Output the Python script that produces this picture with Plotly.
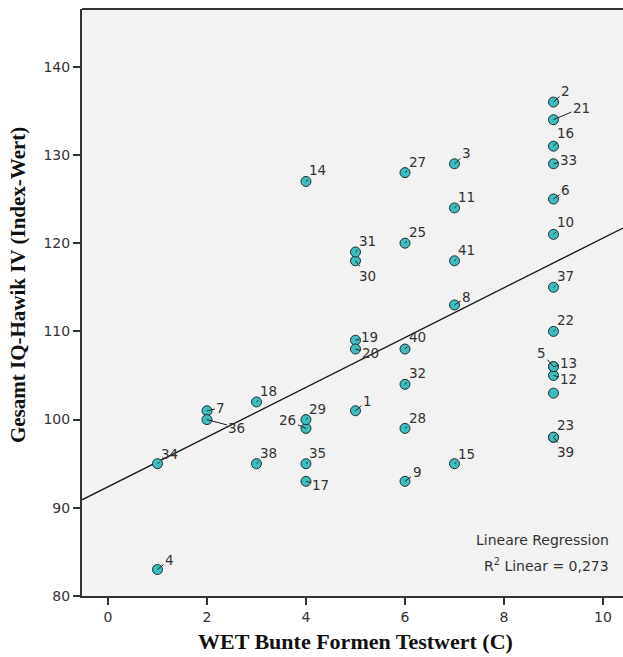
import plotly.graph_objects as go

# data: WET Bunte Formen Testwert (C) vs Gesamt IQ-Hawik IV
case_labels = ["1", "2", "3", "4", "5", "6", "7", "8", "9", "10",
               "11", "12", "13", "14", "15", "16", "17", "18", "19", "20",
               "21", "22", "23", "", "25", "26", "27", "28", "29", "30",
               "31", "32", "33", "34", "35", "36", "37", "38", "39", "40", "41"]
wet_c = [5, 9, 7, 1, 9, 9, 2, 7, 6, 9,
         7, 9, 9, 4, 7, 9, 4, 3, 5, 5,
         9, 9, 9, 9, 6, 4, 6, 6, 4, 5,
         5, 6, 9, 1, 4, 2, 9, 3, 9, 6, 7]
iq = [101, 136, 129, 83, 106, 125, 101, 113, 93, 121,
      124, 105, 106, 127, 95, 131, 93, 102, 109, 108,
      134, 110, 98, 103, 120, 99, 128, 99, 100, 118,
      119, 104, 129, 95, 95, 100, 115, 95, 98, 108, 118]
# label offsets (px) for the case-number labels
label_dx = [12, 12, 12, 12, -12, 12, 14, 12, 12, 12,
            12, 15, 15, 12, 12, 12, 15, 12, 14, 15,
            28, 12, 12, 12, 12, -18, 12, 12, 12, 12,
            12, 12, 15, 12, 12, 30, 12, 12, 12, 12, 12]
label_dy = [-10, -11, -11, -10, -14, -9, -3, -8, -9, -12,
            -11, 4, -4, -11, -10, -13, 4, -11, -3, 4,
            -12, -11, -12, 0, -11, -8, -11, -10, -11, 15,
            -11, -11, -4, -10, -11, 8, -11, -11, 15, -12, -11]

# linear regression (R² Linear = 0,273)
fit_intercept = 92.38
fit_slope = 2.82
r2_text = "0,273"

x_range = [-0.525, 10.404]
y_range = [80, 146.55]
x_ticks = [0, 2, 4, 6, 8, 10]
y_ticks = [80, 90, 100, 110, 120, 130, 140]

fig = go.Figure()
fig.add_trace(go.Scatter(
    x=x_range, y=[fit_intercept + fit_slope * v for v in x_range],
    mode="lines", line=dict(color="#1a1a1a", width=1.4), hoverinfo="skip", showlegend=False))
fig.add_trace(go.Scatter(
    x=wet_c, y=iq, mode="markers",
    marker=dict(size=10, color="#3dbdc0", line=dict(color="#1e2e30", width=1)),
    showlegend=False))

for xv, yv, lab, dx, dy in zip(wet_c, iq, case_labels, label_dx, label_dy):
    if not lab:
        continue
    fig.add_annotation(x=xv, y=yv, ax=dx, ay=dy, text=lab, showarrow=True,
                       arrowhead=0, arrowwidth=1, arrowcolor="#222", standoff=0,
                       font=dict(family="DejaVu Sans", size=13.5, color="#333333"))

fig.add_annotation(xref="paper", yref="paper", x=0.978, y=0.095, xanchor="right", yanchor="middle",
                   text="Lineare Regression", showarrow=False,
                   font=dict(family="DejaVu Sans", size=14, color="#333333"))
fig.add_annotation(xref="paper", yref="paper", x=0.978, y=0.052, xanchor="right", yanchor="middle",
                   text="R<sup>2</sup> Linear = " + r2_text, showarrow=False,
                   font=dict(family="DejaVu Sans", size=14, color="#333333"))

fig.add_shape(type="line", xref="paper", yref="paper", x0=0, x1=1, y0=1, y1=1,
              line=dict(color="#333333", width=2))

# axis titles
fig.add_annotation(xref="paper", yref="paper", x=0.505, y=-0.077, xanchor="center", yanchor="middle",
                   text="<b>WET Bunte Formen Testwert (C)</b>", showarrow=False,
                   font=dict(family="Liberation Serif", size=22, color="#111111"))
fig.add_annotation(xref="paper", yref="paper", x=-0.118, y=0.53, xanchor="center", yanchor="middle",
                   textangle=-90, text="<b>Gesamt IQ-Hawik IV (Index-Wert)</b>", showarrow=False,
                   font=dict(family="Liberation Serif", size=21, color="#111111"))

fig.update_xaxes(range=x_range, tickvals=x_ticks, ticks="outside", ticklen=7, tickwidth=2,
                 tickcolor="#333333", showline=True, linecolor="#333333", linewidth=2,
                 showgrid=False, zeroline=False,
                 tickfont=dict(family="DejaVu Sans", size=14, color="#333333"))
fig.update_yaxes(range=y_range, tickvals=y_ticks, ticks="outside", ticklen=7, tickwidth=2,
                 tickcolor="#333333", showline=True, linecolor="#333333", linewidth=2,
                 showgrid=False, zeroline=False,
                 tickfont=dict(family="DejaVu Sans", size=14, color="#333333"))

fig.update_layout(width=623, height=657, margin=dict(l=82, r=0, t=9, b=61),
                  plot_bgcolor="#f2f2f2", paper_bgcolor="white", showlegend=False)
fig.write_html("out.html")
